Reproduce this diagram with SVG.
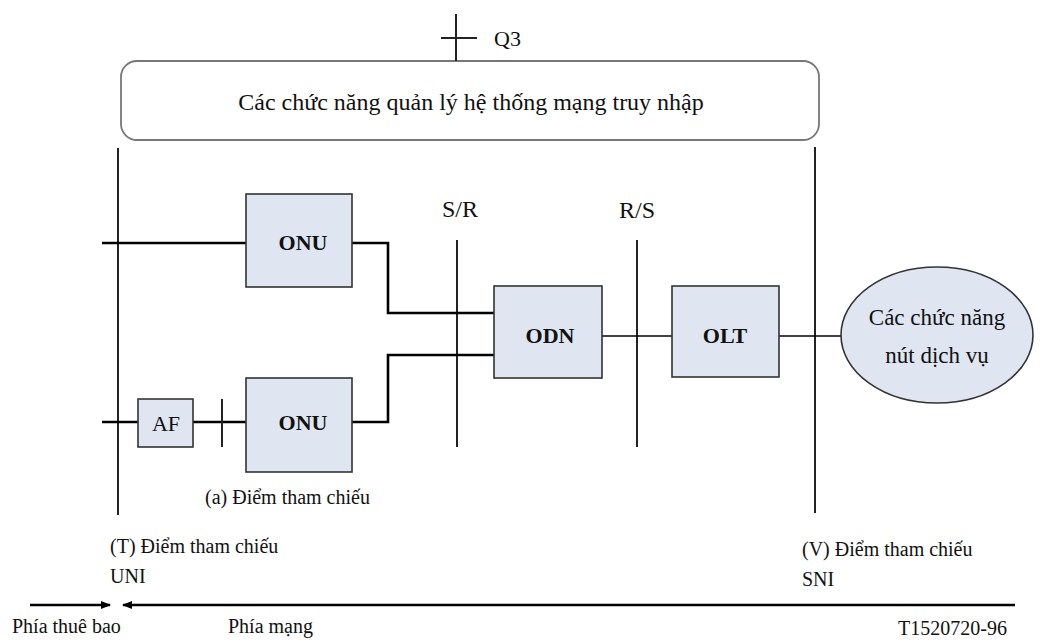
<svg xmlns="http://www.w3.org/2000/svg" width="1052" height="641" viewBox="0 0 1052 641" font-family="'Liberation Serif', 'Times New Roman', Tinos, 'DejaVu Serif', serif">
<style>
text{font-family:'Liberation Serif','Times New Roman',Tinos,'DejaVu Serif',serif;fill:#111}
.box{fill:#dfe6f1;stroke:#333;stroke-width:1.6}
.thick{stroke:#000;stroke-width:2.6;fill:none}
.thin{stroke:#000;stroke-width:1.4;fill:none}
.ref{stroke:#222;stroke-width:2;fill:none}
.lbl{font-size:22px;font-weight:bold;text-anchor:middle}
.note{font-size:20px}
</style>
<defs>
<marker id="ah" markerWidth="10" markerHeight="8" refX="9" refY="4" orient="auto" markerUnits="userSpaceOnUse">
<path d="M0,0 L10,4 L0,8 Z" fill="#000"/>
</marker>
</defs>
<rect width="1052" height="641" fill="#fff"/>

<g id="mgmt">
<rect x="121" y="61" width="698" height="79" rx="16" ry="16" fill="#fff" stroke="#777" stroke-width="1.8"/>
<text x="471" y="110" font-size="24" text-anchor="middle">Các chức năng quản lý hệ thống mạng truy nhập</text>
</g>

<g id="q3">
<line class="ref" x1="456" y1="14" x2="456" y2="61"/>
<line class="ref" x1="441" y1="38" x2="477" y2="38"/>
<text x="494" y="46" font-size="22">Q3</text>
</g>

<g id="connectors">
<line class="ref" x1="118" y1="148" x2="118" y2="515"/>
<line class="ref" x1="815" y1="147" x2="815" y2="513"/>
<line class="ref" x1="457" y1="240" x2="457" y2="447"/>
<line class="ref" x1="637" y1="240" x2="637" y2="447"/>
<line class="thick" x1="102" y1="243" x2="246" y2="243"/>
<polyline class="thick" points="352,243 388,243 388,313 494,313"/>
<polyline class="thick" points="494,355 388,355 388,422 352,422"/>
<line class="thick" x1="102" y1="422" x2="138" y2="422"/>
<line class="thick" x1="193" y1="422" x2="246" y2="422"/>
<line class="ref" x1="222" y1="399" x2="222" y2="447"/>
<line class="thin" x1="602" y1="336" x2="672" y2="336"/>
<line class="thin" x1="779" y1="336" x2="841" y2="336"/>
<line class="thick" x1="30" y1="605" x2="110" y2="605" marker-end="url(#ah)"/>
<line class="thick" x1="1015" y1="605" x2="123" y2="605" marker-end="url(#ah)"/>
</g>

<g id="onu1">
<rect class="box" x="246" y="194" width="106" height="93"/>
<text class="lbl" x="303" y="250">ONU</text>
</g>
<g id="onu2">
<rect class="box" x="246" y="378" width="106" height="94"/>
<text class="lbl" x="303" y="430">ONU</text>
</g>
<g id="af">
<rect class="box" x="138" y="399" width="55" height="48"/>
<text x="166" y="431" font-size="22" text-anchor="middle">AF</text>
</g>
<g id="odn">
<rect class="box" x="494" y="286" width="108" height="92"/>
<text class="lbl" x="550" y="343">ODN</text>
</g>
<g id="olt">
<rect class="box" x="672" y="286" width="107" height="91"/>
<text class="lbl" x="725" y="343">OLT</text>
</g>
<g id="service">
<ellipse cx="937" cy="335" rx="96" ry="68" fill="#dfe6f1" stroke="#333" stroke-width="1.6"/>
<text x="937" y="325" font-size="23" text-anchor="middle">Các chức năng</text>
<text x="937" y="363" font-size="23" text-anchor="middle">nút dịch vụ</text>
</g>

<g id="labels">
<text x="460" y="217" font-size="24" text-anchor="middle">S/R</text>
<text x="637" y="218" font-size="24" text-anchor="middle">R/S</text>
<text class="note" x="205" y="504">(a) Điểm tham chiếu</text>
<text class="note" x="110" y="553">(T) Điểm tham chiếu</text>
<text class="note" x="110" y="583">UNI</text>
<text class="note" x="802" y="556">(V) Điểm tham chiếu</text>
<text class="note" x="802" y="586">SNI</text>
<text class="note" x="12" y="633">Phía thuê bao</text>
<text class="note" x="228" y="633">Phía mạng</text>
<text class="note" x="898" y="635">T1520720-96</text>
</g>
</svg>
